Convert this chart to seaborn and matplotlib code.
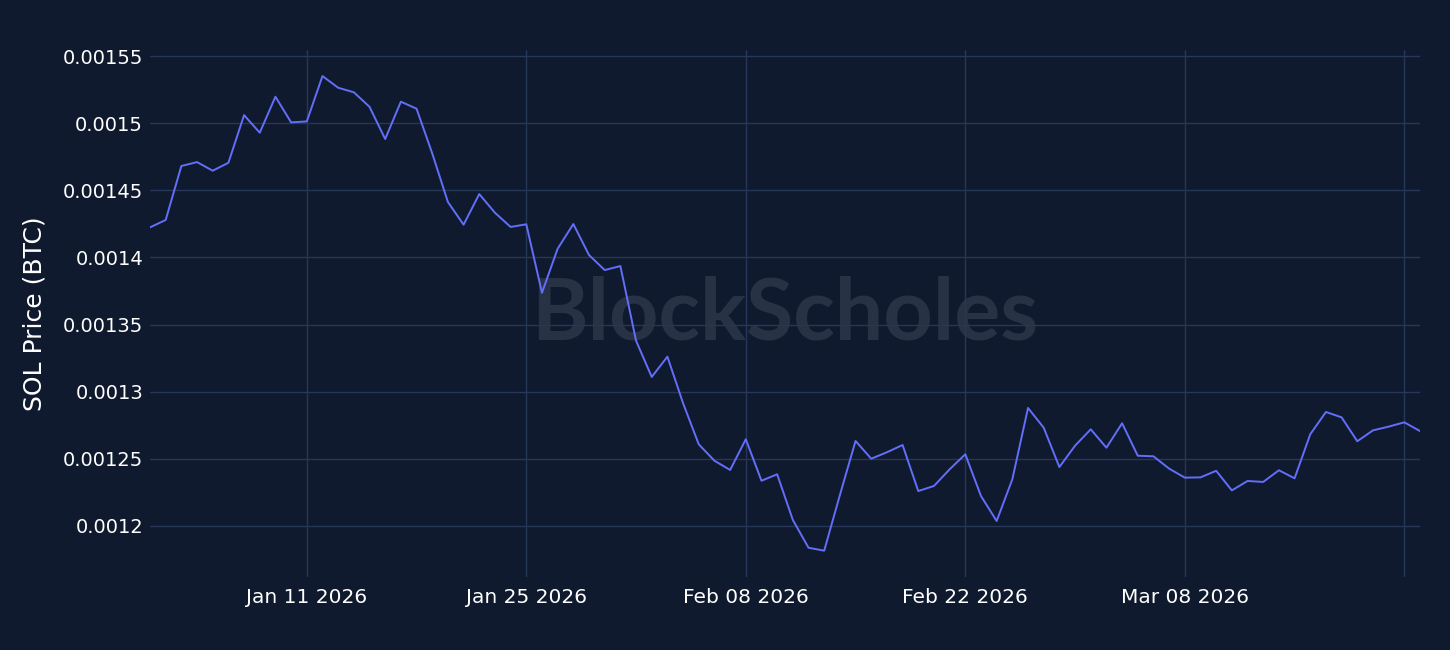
import pandas as pd
import numpy as np
import matplotlib
matplotlib.use('Agg')
import matplotlib.pyplot as plt
from matplotlib.ticker import FuncFormatter
import seaborn as sns

# Data: daily SOL price in BTC, Jan 1 - Mar 23 2026
start_date = '2026-01-01'
sol_btc = [
    0.0014224, 0.0014279, 0.0014681, 0.0014710, 0.0014646, 0.0014705, 0.0015060,
    0.0014929, 0.0015197, 0.0015006, 0.0015013, 0.0015351, 0.0015264, 0.0015230,
    0.0015122, 0.0014882, 0.0015160, 0.0015108, 0.0014775, 0.0014413, 0.0014244,
    0.0014472, 0.0014333, 0.0014227, 0.0014247, 0.0013737, 0.0014065, 0.0014249,
    0.0014018, 0.0013906, 0.0013936, 0.0013380, 0.0013110, 0.0013261, 0.0012914,
    0.0012608, 0.0012486, 0.0012417, 0.0012646, 0.0012337, 0.0012385, 0.0012045,
    0.0011838, 0.0011816, 0.0012230, 0.0012633, 0.0012501, 0.0012549, 0.0012603,
    0.0012260, 0.0012298, 0.0012422, 0.0012534, 0.0012223, 0.0012037, 0.0012348,
    0.0012879, 0.0012732, 0.0012439, 0.0012598, 0.0012720, 0.0012583, 0.0012765,
    0.0012523, 0.0012519, 0.0012427, 0.0012360, 0.0012362, 0.0012411, 0.0012265,
    0.0012335, 0.0012328, 0.0012415, 0.0012355, 0.0012683, 0.0012849, 0.0012809,
    0.0012631, 0.0012712, 0.0012740, 0.0012772, 0.0012707,
]
y_ticks = [0.0012, 0.00125, 0.0013, 0.00135, 0.0014, 0.00145, 0.0015, 0.00155]
x_ticks = ['2026-01-11', '2026-01-25', '2026-02-08', '2026-02-22', '2026-03-08', '2026-03-22']

df = pd.DataFrame({
    'date': pd.date_range(start_date, periods=len(sol_btc), freq='D'),
    'price': sol_btc,
})

# Dark theme colours
bg = '#101a2e'
grid = '#26375a'
line_color = '#636efa'

sns.set_style('dark', {'axes.facecolor': bg, 'figure.facecolor': bg})
plt.rcParams['font.family'] = ['DejaVu Sans']

fig = plt.figure(figsize=(14.5, 6.5), dpi=100)
ax = fig.add_axes([150 / 1450, 1 - 577 / 650, 1270 / 1450, 527 / 650])

# Watermark
ax.text(0.5, 0.497, 'BlockScholes', transform=ax.transAxes, ha='center', va='center',
        fontsize=62, fontweight='bold', family=['Lato', 'DejaVu Sans'],
        color='#283245', zorder=0)

sns.lineplot(data=df, x='date', y='price', ax=ax, color=line_color, linewidth=1.4, zorder=3)

ax.set_xlim(df['date'].iloc[0], df['date'].iloc[-1])
ax.set_ylim(0.001162, 0.0015545)

ax.set_yticks(y_ticks)
ax.yaxis.set_major_formatter(FuncFormatter(lambda v, p: f'{v:g}'))
tick_dates = pd.to_datetime(x_ticks)
ax.set_xticks(tick_dates)
labels = [d.strftime('%b %d %Y') for d in tick_dates]
labels[-1] = ''  # last label would overflow the figure
ax.set_xticklabels(labels)

ax.grid(True, color=grid, linewidth=1)
for s in ax.spines.values():
    s.set_visible(False)
ax.tick_params(axis='y', length=0, colors='white', labelsize=14, pad=5)
ax.tick_params(axis='x', length=0, colors='white', labelsize=14.5, pad=8)

ax.set_xlabel('')
ax.set_ylabel('SOL Price (BTC)', color='white', fontsize=18, labelpad=12)

fig.savefig('out.png', dpi=100, facecolor=bg)
